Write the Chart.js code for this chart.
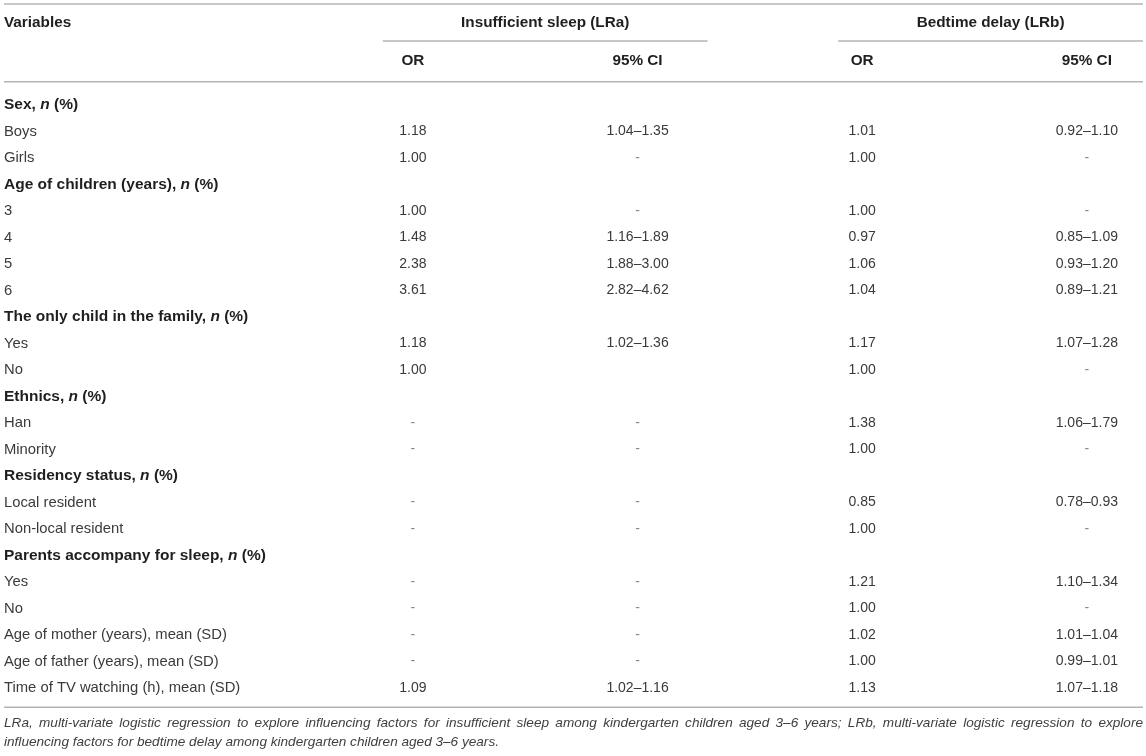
<!DOCTYPE html>
<html>
<head>
<meta charset="utf-8">
<title>Influencing factors for sleep</title>
<script src="https://cdn.jsdelivr.net/npm/chart.js@4/dist/chart.umd.min.js"></script>
<style>
  html, body { margin: 0; padding: 0; background: #ffffff; }
  #wrap { width: 1146px; height: 756px; }
</style>
</head>
<body>
<div id="wrap"><canvas id="tableChart" width="1146" height="756"></canvas></div>
<script>
// Tablo verisi (satırlar ve sütunlar)
const rowLabels = [
  'Sex, n (%)', 'Boys', 'Girls',
  'Age of children (years), n (%)', '3', '4', '5', '6',
  'The only child in the family, n (%)', 'Yes', 'No',
  'Ethnics, n (%)', 'Han', 'Minority',
  'Residency status, n (%)', 'Local resident', 'Non-local resident',
  'Parents accompany for sleep, n (%)', 'Yes', 'No',
  'Age of mother (years), mean (SD)', 'Age of father (years), mean (SD)',
  'Time of TV watching (h), mean (SD)'
];

// null = başlık satırı (değer yok), '' = boş hücre
const orLRa = [null, '1.18', '1.00', null, '1.00', '1.48', '2.38', '3.61', null, '1.18', '1.00',
  null, '-', '-', null, '-', '-', null, '-', '-', '-', '-', '1.09'];
const ciLRa = [null, '1.04–1.35', '-', null, '-', '1.16–1.89', '1.88–3.00', '2.82–4.62', null, '1.02–1.36', '',
  null, '-', '-', null, '-', '-', null, '-', '-', '-', '-', '1.02–1.16'];
const orLRb = [null, '1.01', '1.00', null, '1.00', '0.97', '1.06', '1.04', null, '1.17', '1.00',
  null, '1.38', '1.00', null, '0.85', '1.00', null, '1.21', '1.00', '1.02', '1.00', '1.13'];
const ciLRb = [null, '0.92–1.10', '-', null, '-', '0.85–1.09', '0.93–1.20', '0.89–1.21', null, '1.07–1.28', '-',
  null, '1.06–1.79', '-', null, '0.78–0.93', '-', null, '1.10–1.34', '-', '1.01–1.04', '0.99–1.01', '1.07–1.18'];

const columnHeads = ['OR', '95% CI', 'OR', '95% CI'];
const groupHeads = ['Insufficient sleep (LRa)', 'Bedtime delay (LRb)'];
const firstHead = 'Variables';
const footnote = [
  'LRa, multi-variate logistic regression to explore influencing factors for insufficient sleep among kindergarten children aged 3–6 years; LRb, multi-variate logistic regression to explore',
  'influencing factors for bedtime delay among kindergarten children aged 3–6 years.'
];

const FONT = '"Liberation Sans", Arial, Helvetica, sans-serif';
const TEXT = '#3a3a3a';
const HEAD = '#1f1f1f';
const RULE = '#b4b4b4';

// Her sütun için dataset: x = sütun sırası, y = satır sırası
function buildColumn(values, col) {
  const pts = [];
  values.forEach((v, i) => {
    if (v === null || v === '') return;
    pts.push({ x: col, y: i, text: v });
  });
  return pts;
}

const columns = [orLRa, ciLRa, orLRb, ciLRb];
const datasets = columns.map((vals, c) => ({
  label: columnHeads[c],
  data: buildColumn(vals, c),
  pointRadius: 0,
  pointHoverRadius: 0,
  showLine: false
}));

// Satır başlığı: kalın, içindeki "n" italik
function drawLabel(ctx, label, x, y, isSection) {
  if (!isSection) {
    ctx.font = '14.8px ' + FONT;
    ctx.fillStyle = TEXT;
    ctx.fillText(label, x, y);
    return;
  }
  ctx.fillStyle = HEAD;
  let cx = x;
  label.split(/(\bn\b)/).forEach(part => {
    if (!part) return;
    ctx.font = (part === 'n' ? 'italic bold 15.5px ' : 'bold 15.5px ') + FONT;
    ctx.fillText(part, cx, y);
    cx += ctx.measureText(part).width;
  });
}

function hLine(ctx, x1, x2, y) {
  ctx.beginPath();
  ctx.moveTo(x1, y);
  ctx.lineTo(x2, y);
  ctx.stroke();
}

// İki yana yaslı satır
function drawJustified(ctx, text, x1, x2, y) {
  const words = text.split(' ');
  const total = words.reduce((s, w) => s + ctx.measureText(w).width, 0);
  let gap = (x2 - x1 - total) / (words.length - 1);
  if (gap < 1.5) {
    ctx.fillText(text, x1, y, x2 - x1);
    return;
  }
  let cx = x1;
  words.forEach(w => {
    ctx.fillText(w, cx, y);
    cx += ctx.measureText(w).width + gap;
  });
}

const tablePlugin = {
  id: 'tablePlugin',
  afterDatasetsDraw(chart) {
    const ctx = chart.ctx;
    const area = chart.chartArea;
    const xs = chart.scales.x;
    const ys = chart.scales.y;
    const left = 4, right = 1143;

    ctx.save();
    ctx.textBaseline = 'middle';

    // Yatay çizgiler
    ctx.strokeStyle = RULE;
    ctx.lineWidth = 1.6;
    hLine(ctx, left, right, 4);
    hLine(ctx, xs.getPixelForValue(0) - 30, xs.getPixelForValue(1) + 70, 41);
    hLine(ctx, xs.getPixelForValue(2) - 24, right, 41);
    hLine(ctx, left, right, area.top - 10);
    hLine(ctx, left, right, area.bottom + 6);

    // Başlıklar
    ctx.fillStyle = HEAD;
    ctx.font = 'bold 15.3px ' + FONT;
    ctx.textAlign = 'left';
    ctx.fillText(firstHead, left, 23);
    ctx.textAlign = 'center';
    const g1 = ((xs.getPixelForValue(0) - 30) + (xs.getPixelForValue(1) + 70)) / 2;
    const g2 = ((xs.getPixelForValue(2) - 24) + right) / 2;
    ctx.fillText(groupHeads[0], g1, 23);
    ctx.fillText(groupHeads[1], g2, 23);
    columnHeads.forEach((h, c) => ctx.fillText(h, xs.getPixelForValue(c), 61));

    // Satır etiketleri
    ctx.textAlign = 'left';
    rowLabels.forEach((lab, i) => {
      const isSection = orLRa[i] === null && orLRb[i] === null;
      drawLabel(ctx, lab, left, ys.getPixelForValue(i), isSection);
    });

    // Hücre değerleri (scale üzerinden konumlanan noktalar)
    ctx.textAlign = 'center';
    ctx.font = '14px ' + FONT;
    chart.data.datasets.forEach((ds, di) => {
      const meta = chart.getDatasetMeta(di);
      meta.data.forEach((pt, j) => {
        const txt = ds.data[j].text;
        ctx.fillStyle = txt === '-' ? '#8a8a8a' : TEXT;
        ctx.fillText(txt, pt.x, pt.y);
      });
    });

    // Dipnot
    ctx.fillStyle = '#3f3f3f';
    ctx.font = 'italic 13.6px ' + FONT;
    ctx.textAlign = 'left';
    drawJustified(ctx, footnote[0], left, right, area.bottom + 22);
    ctx.fillText(footnote[1], left, area.bottom + 41);

    ctx.restore();
  }
};

new Chart(document.getElementById('tableChart'), {
  type: 'scatter',
  data: { labels: rowLabels.map((l, i) => i), datasets: datasets },
  options: {
    responsive: false,
    animation: false,
    events: [],
    layout: { padding: { left: 4, right: 3, top: 91.75, bottom: 54.75 } },
    plugins: { legend: { display: false }, tooltip: { enabled: false } },
    scales: {
      x: { type: 'linear', min: -1.82, max: 3.25, display: false },
      y: { type: 'category', labels: rowLabels.map((l, i) => i), offset: true, display: false }
    }
  },
  plugins: [tablePlugin]
});
</script>
</body>
</html>
